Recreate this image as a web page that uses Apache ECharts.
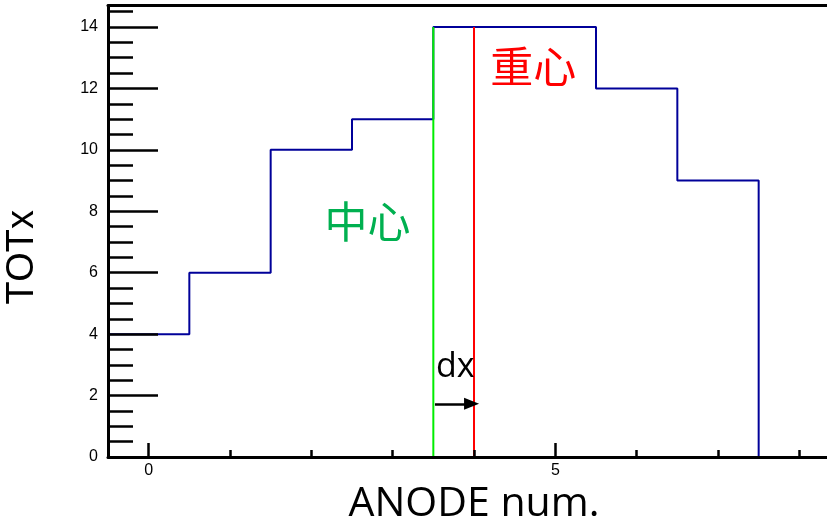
<!DOCTYPE html>
<html>
<head>
<meta charset="utf-8">
<script src="https://cdn.jsdelivr.net/npm/echarts@6/dist/echarts.min.js"></script>
<style>
  html, body { margin: 0; padding: 0; background: #fff; overflow: hidden; }
  #main { width: 827px; height: 527px; }
</style>
</head>
<body>
<div id="main"></div>
<script>
// TOT per anode, histogram bins centred on anode numbers
const binEdges = [-0.5, 0.5, 1.5, 2.5, 3.5, 4.5, 5.5, 6.5, 7.5, 8.5];
const anodeNums = [0, 1, 2, 3, 4, 5, 6, 7, 8];
const totValues = [4, 6, 10, 11, 14, 14, 12, 9, 0];

// tick positions
const xMajorTicks = [0, 5];
const xMinorTicks = [1, 2, 3, 4, 6, 7, 8];
const yMajorTicks = [0, 2, 4, 6, 8, 10, 12, 14];
const yMinorTicks = [0.5, 1, 1.5, 2.5, 3, 3.5, 4.5, 5, 5.5, 6.5, 7, 7.5,
                     8.5, 9, 9.5, 10.5, 11, 11.5, 12.5, 13, 13.5, 14.5];

// annotation values
const centerX = 3.5;        // 中心: middle of the hit anodes
const markerTop = 14;       // height of the vertical markers
const arrowY = 1.73;
const labelCenter = [2.69, 7.65];
const labelCentroid = [4.73, 12.7];
const labelDx = [3.77, 2.93];

// 重心: TOT-weighted mean anode number
const totSum = totValues.reduce((a, b) => a + b, 0);
const centroidX = anodeNums.reduce((a, n, i) => a + n * totValues[i], 0) / totSum;

// outline of the histogram as a stepped line
const stepPoints = [[binEdges[0], 0]];
totValues.forEach((v, i) => stepPoints.push([binEdges[i], v]));
stepPoints.push([binEdges[binEdges.length - 1], totValues[totValues.length - 1]]);

const chart = echarts.init(document.getElementById('main'), null, { renderer: 'canvas' });

const tickFont = { fontFamily: 'Liberation Sans', fontSize: 16, color: '#000' };
const xMin = binEdges[0];
const xMax = binEdges[binEdges.length - 1];

chart.setOption({
  animation: false,
  backgroundColor: '#fff',
  grid: {
    left: 108, top: 5.5, bottom: 70, right: -13,
    outerBoundsMode: 'none', containLabel: false, show: false
  },
  xAxis: [
    {
      type: 'value', min: xMin, max: xMax, position: 'bottom', z: 10,
      name: 'ANODE num.', nameLocation: 'middle', nameGap: 22,
      nameTextStyle: { fontFamily: 'Open Sans', fontSize: 41, color: '#000' },
      axisLine: { show: true, onZero: false, lineStyle: { color: '#000', width: 3 } },
      axisTick: { show: true, inside: true, length: 14, customValues: xMajorTicks,
                  lineStyle: { color: '#000', width: 2.5 } },
      axisLabel: Object.assign({ show: true, margin: 6, customValues: xMajorTicks }, tickFont),
      splitLine: { show: false }
    },
    {
      type: 'value', min: xMin, max: xMax, position: 'bottom', z: 10,
      axisLine: { show: false, onZero: false },
      axisTick: { show: true, inside: true, length: 7, customValues: xMinorTicks,
                  lineStyle: { color: '#000', width: 2.5 } },
      axisLabel: { show: false },
      splitLine: { show: false }
    },
    {
      // frame line along the top
      type: 'value', min: xMin, max: xMax, position: 'top', z: 10,
      axisLine: { show: true, onZero: false, lineStyle: { color: '#000', width: 3 } },
      axisTick: { show: false },
      axisLabel: { show: false },
      splitLine: { show: false }
    }
  ],
  yAxis: [
    {
      type: 'value', min: 0, max: 14.7, position: 'left', z: 10,
      name: 'TOTx', nameLocation: 'middle', nameGap: 66,
      nameTextStyle: { fontFamily: 'Liberation Sans', fontSize: 38, color: '#000',
                       padding: [0, 52, 0, 0] },
      axisLine: { show: true, onZero: false, lineStyle: { color: '#000', width: 3 } },
      axisTick: { show: true, inside: true, length: 50, customValues: yMajorTicks,
                  lineStyle: { color: '#000', width: 2.5 } },
      axisLabel: Object.assign({ show: true, margin: 10, customValues: yMajorTicks }, tickFont),
      splitLine: { show: false }
    },
    {
      type: 'value', min: 0, max: 14.7, position: 'left', z: 10,
      axisLine: { show: false, onZero: false },
      axisTick: { show: true, inside: true, length: 25, customValues: yMinorTicks,
                  lineStyle: { color: '#000', width: 2.5 } },
      axisLabel: { show: false },
      splitLine: { show: false }
    }
  ],
  series: [
    {
      name: 'TOT', type: 'line', step: 'end', data: stepPoints,
      showSymbol: false, silent: true, z: 2,
      lineStyle: { color: '#000099', width: 2 }
    },
    {
      name: '中心', type: 'line', data: [[centerX, 0], [centerX, markerTop]],
      showSymbol: false, silent: true, z: 3,
      lineStyle: { color: '#00ee00', width: 2 }
    },
    {
      name: '重心', type: 'line', data: [[centroidX, 0], [centroidX, markerTop]],
      showSymbol: false, silent: true, z: 3,
      lineStyle: { color: '#ff0000', width: 2 },
      markLine: {
        silent: true, symbol: ['none', 'triangle'], symbolSize: [12, 15],
        label: { show: false },
        lineStyle: { color: '#000', width: 2.5, type: 'solid' },
        data: [[{ coord: [centerX + 0.02, arrowY] }, { coord: [centroidX - 0.03, arrowY] }]]
      }
    },
    {
      name: 'notes', type: 'scatter', symbolSize: 1, silent: true, z: 4,
      itemStyle: { color: 'rgba(0,0,0,0)', opacity: 1 },
      label: { show: true, position: 'inside' },
      data: [
        { value: labelCenter, label: { formatter: '中心', color: '#00b050',
          fontFamily: 'Noto Sans CJK SC', fontSize: 43 } },
        { value: labelCentroid, label: { formatter: '重心', color: '#ff0000',
          fontFamily: 'Noto Sans CJK SC', fontSize: 43 } },
        { value: labelDx, label: { formatter: 'dx', color: '#000',
          fontFamily: 'Open Sans', fontSize: 34 } }
      ]
    }
  ]
});
</script>
</body>
</html>
